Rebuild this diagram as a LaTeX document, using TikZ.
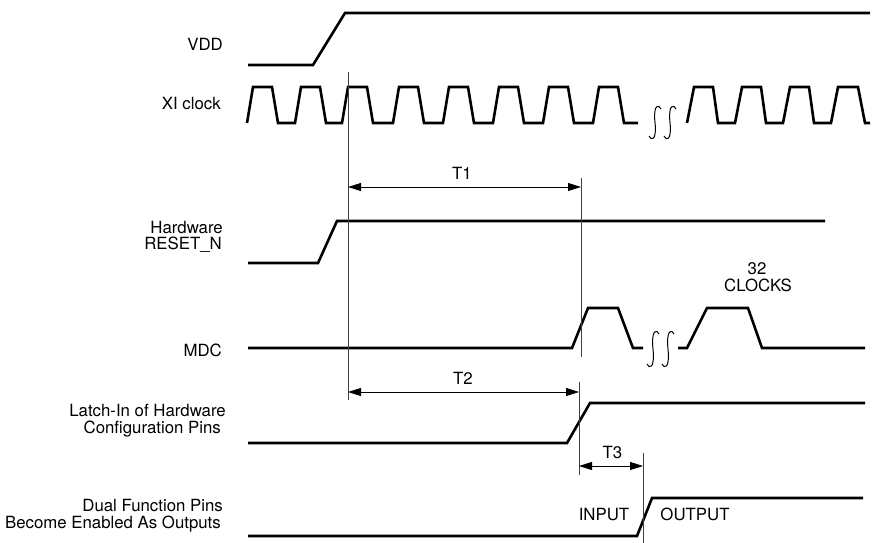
\documentclass[tikz,border=0pt]{standalone}
\usepackage{fontspec}
\setmainfont{TeX Gyre Heros}
\usetikzlibrary{arrows.meta}
\tikzset{
  wave/.style={line width=2.6pt, line join=miter},
  guide/.style={line width=0.8pt, black!75},
  dim/.style={line width=0.8pt, {Triangle[length=13pt,width=8pt]}-{Triangle[length=13pt,width=8pt]}},
  lbl/.style={inner sep=0pt, font=\fontsize{16.8}{17}\selectfont},
  brk/.style={line width=1pt}
}
\newcommand{\brkmark}[3]{% x, top, bottom
  \draw[brk] (#1+6,#2+4) .. controls (#1+4,#2-1) and (#1-2,#2-1) .. (#1,{(#2+#3)/2})
    .. controls (#1+2,#3+1) and (#1-4,#3+1) .. (#1-6,#3-4);}
\begin{document}
\begin{tikzpicture}[x=1pt,y=-1pt]
\useasboundingbox (0,0) rectangle (878,543);
% labels
\node[lbl,anchor=base east] (lvdd) at (223,50.5) {VDD};
\node[lbl,anchor=base east] (lxi) at (221,110) {XI clock};
\node[lbl,anchor=base east] (lrst1) at (223,233.5) {Hardware};
\node[lbl,anchor=base east] (lrst2) at (222,249.5) {RESET\_N};
\node[lbl,anchor=base east] (lmdc) at (222,356) {MDC};
\node[lbl,anchor=base east] (llat1) at (226,416.7) {Latch-In of Hardware};
\node[lbl,anchor=base east] (llat2) at (221,433) {Configuration Pins};
\node[lbl,anchor=base east] (ldual1) at (223,511.7) {Dual Function Pins};
\node[lbl,anchor=base east] (ldual2) at (221,528) {Become Enabled As Outputs};
% VDD
\draw[wave] (248,65) -- (313,65) -- (345,13) -- (870,13);
% XI clock
\draw[wave] (247,123)
  \foreach \a/\b in {247/295,295/342,342/393,393/443,443/493,493/543,543/593}{
    -- (\a+6,87) -- (\a+25,87) -- (\a+31,123) -- (\b,123)}
  -- (599,87) -- (618,87) -- (624,123) -- (638,123);
\draw[wave] (687,123)
  \foreach \a in {687,735,783}{
    -- (\a+7,87) -- (\a+26,87) -- (\a+31,123) -- (\a+48,123)}
  -- (838,87) -- (858,87) -- (865,123) -- (870,123);
\brkmark{655}{105}{140}
\brkmark{670}{105}{140}
% RESET_N
\draw[wave] (248,263) -- (318,263) -- (337,221) -- (825,221);
% MDC
\draw[wave] (248,348) -- (572,348) -- (588,308) -- (618,308) -- (633,348) -- (643,348);
\draw[wave] (678,348) -- (687,348) -- (707,308) -- (748,308) -- (762,348) -- (865,348);
\brkmark{653}{330}{368}
\brkmark{668}{330}{368}
\node[lbl,anchor=base] (l32) at (757,274) {32};
\node[lbl,anchor=base] (lclk) at (758,291.7) {CLOCKS};
% Latch-in
\draw[wave] (248,443) -- (567,443) -- (590,403) -- (865,403);
% Dual function
\draw[wave] (248,536) -- (637,536) -- (652,498) -- (863,498);
\node[lbl,anchor=base] (lin) at (604,520) {INPUT};
\node[lbl,anchor=base] (lout) at (695,520) {OUTPUT};
% guides
\coordinate (g1t) at (348,72);  \coordinate (g1b) at (348,400);
\coordinate (g2t) at (581,178); \coordinate (g2b) at (581,357);
\coordinate (g3t) at (579,382); \coordinate (g3b) at (579,475);
\coordinate (g4t) at (643,453); \coordinate (g4b) at (643,543);
\draw[guide] (g1t) -- (g1b);
\draw[guide] (g2t) -- (g2b);
\draw[guide] (g3t) -- (g3b);
\draw[guide] (g4t) -- (g4b);
% dimensions
\coordinate (t1a) at (348,187); \coordinate (t1b) at (581,187);
\coordinate (t2a) at (348,392); \coordinate (t2b) at (579,392);
\coordinate (t3a) at (579,466); \coordinate (t3b) at (643,466);
\draw[dim] (t1a) -- (t1b);
\draw[dim] (t2a) -- (t2b);
\draw[dim] (t3a) -- (t3b);
\node[lbl,anchor=base] (lt1) at (462,179) {T1};
\node[lbl,anchor=base] (lt2) at (463,384) {T2};
\node[lbl,anchor=base] (lt3) at (612.5,458) {T3};
\end{tikzpicture}
\end{document}
